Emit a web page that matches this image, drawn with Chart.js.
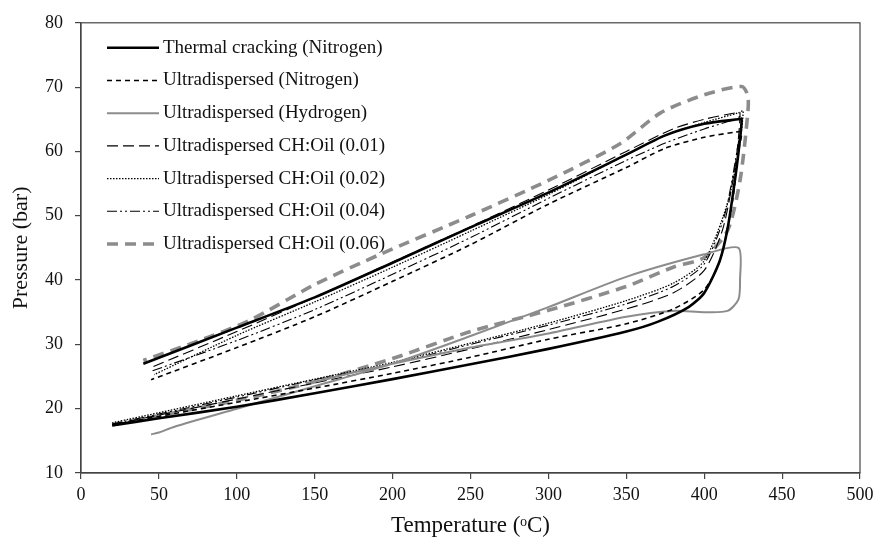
<!DOCTYPE html>
<html>
<head>
<meta charset="utf-8">
<script src="https://cdn.jsdelivr.net/npm/chart.js@4"></script>
<style>
  body { margin: 0; background: #fff; }
</style>
</head>
<body>
<canvas id="chart" width="881" height="543"></canvas>
<script>
// heating (lower) then cooling (upper) path, temperature in degC / pressure in bar
const thermalT = [20, 50, 100, 150, 200, 250, 300, 350, 370, 390, 400, 410, 415, 420, 423, 424, 422, 400, 375, 350, 300, 250, 200, 150, 100, 40];
const thermalP = [17.4, 18.5, 20.3, 22.4, 24.6, 26.9, 29.3, 32.0, 33.5, 35.8, 38.0, 43.0, 48.0, 56.0, 62.0, 65.0, 65.0, 64.3, 62.5, 59.5, 53.6, 48.2, 42.7, 37.3, 32.6, 27.0];

const n2T = [20, 100, 150, 200, 250, 300, 350, 380, 400, 410, 418, 422, 424, 420, 400, 375, 350, 300, 250, 200, 150, 100, 45];
const n2P = [17.5, 21.0, 23.2, 25.5, 28.0, 30.8, 33.2, 35.5, 38.5, 43.0, 52.0, 60.0, 63.0, 63.0, 62.2, 60.5, 57.5, 51.8, 45.5, 39.8, 34.3, 29.5, 24.5];

const h2T = [45, 50, 60, 100, 150, 200, 250, 300, 350, 400, 422, 423, 422, 415, 400, 380, 350, 300, 250, 200, 150];
const h2P = [16.0, 16.3, 17.2, 20.0, 23.5, 27.0, 31.3, 35.8, 40.5, 44.0, 45.0, 40.0, 37.0, 35.2, 35.0, 35.2, 34.3, 31.7, 29.5, 27.0, 24.2];

const ch01T = [20, 100, 150, 200, 250, 300, 350, 380, 400, 412, 420, 423, 420, 400, 380, 350, 300, 250, 200, 150, 100, 44];
const ch01P = [17.5, 21.5, 24.0, 26.5, 29.3, 32.3, 35.5, 38.0, 41.5, 48.0, 58.0, 66.0, 66.0, 65.0, 63.5, 60.0, 54.0, 48.3, 42.8, 37.3, 32.0, 26.3];

const ch02T = [20, 100, 150, 200, 250, 300, 350, 380, 400, 415, 422, 425, 422, 400, 375, 350, 300, 250, 200, 150, 100, 47];
const ch02P = [17.8, 22.0, 24.6, 27.2, 30.2, 33.3, 36.8, 39.5, 43.0, 52.0, 60.0, 66.3, 66.0, 64.5, 62.5, 59.5, 53.3, 47.6, 42.0, 36.6, 31.4, 25.3];

const ch04T = [20, 100, 150, 200, 250, 300, 350, 380, 400, 413, 421, 424, 420, 400, 375, 350, 300, 250, 200, 150, 100, 45];
const ch04P = [17.6, 21.8, 24.5, 27.0, 30.0, 33.0, 36.3, 39.0, 42.5, 50.0, 60.0, 65.5, 65.0, 63.5, 61.3, 58.6, 52.7, 46.6, 40.9, 35.4, 30.6, 25.8];

const ch06T = [20, 100, 150, 200, 250, 300, 350, 380, 400, 415, 423, 428, 428, 424, 400, 372, 346, 300, 250, 192, 150, 108, 75, 40];
const ch06P = [17.5, 21.3, 24.2, 27.8, 32.0, 35.3, 39.0, 42.0, 43.5, 47.7, 55.5, 66.0, 68.7, 70.1, 68.8, 66.0, 61.2, 55.5, 50.0, 44.0, 39.3, 33.7, 30.5, 27.5];

const seriesNames = [
  'Thermal cracking (Nitrogen)',
  'Ultradispersed (Nitrogen)',
  'Ultradispersed (Hydrogen)',
  'Ultradispersed CH:Oil (0.01)',
  'Ultradispersed CH:Oil (0.02)',
  'Ultradispersed CH:Oil (0.04)',
  'Ultradispersed CH:Oil (0.06)'
];
const xTicks = [0, 50, 100, 150, 200, 250, 300, 350, 400, 450, 500];
const yTicks = [10, 20, 30, 40, 50, 60, 70, 80];

const toPoints = (ts, ps) => ts.map((t, i) => ({ x: t, y: ps[i] }));

const styles = [
  { color: '#000', width: 2.6, dash: [] },
  { color: '#000', width: 1.6, dash: [5, 4] },
  { color: '#8c8c8c', width: 2, dash: [] },
  { color: '#000', width: 1.1, dash: [11, 5] },
  { color: '#000', width: 1.3, dash: [1.5, 1.5] },
  { color: '#000', width: 1.1, dash: [10, 3, 2, 3, 2, 3] },
  { color: '#8c8c8c', width: 3.6, dash: [11, 7] }
];
const pairs = [[thermalT, thermalP], [n2T, n2P], [h2T, h2P], [ch01T, ch01P], [ch02T, ch02P], [ch04T, ch04P], [ch06T, ch06P]];

const datasets = pairs.map((p, i) => ({
  label: seriesNames[i],
  data: toPoints(p[0], p[1]),
  showLine: true,
  borderColor: styles[i].color,
  borderWidth: styles[i].width,
  borderDash: styles[i].dash,
  pointRadius: 0,
  tension: 0.25,
  fill: false
}));

const serif = '"Liberation Serif", "Times New Roman", serif';

// legend drawn inside the plot, plus the frame round the plot area
const frameAndLegend = {
  id: 'frameAndLegend',
  afterDraw(chart) {
    const ctx = chart.ctx;
    const a = chart.chartArea;
    ctx.save();
    ctx.strokeStyle = '#444';
    ctx.lineWidth = 1.2;
    ctx.setLineDash([]);
    ctx.strokeRect(a.left, a.top, a.right - a.left, a.bottom - a.top);

    const x0 = a.left + 26, x1 = a.left + 78;
    let y = a.top + 25;
    ctx.font = '19px ' + serif;
    ctx.textBaseline = 'middle';
    ctx.fillStyle = '#111';
    chart.data.datasets.forEach(ds => {
      ctx.strokeStyle = ds.borderColor;
      ctx.lineWidth = ds.borderWidth;
      ctx.setLineDash(ds.borderDash);
      ctx.beginPath();
      ctx.moveTo(x0, y);
      ctx.lineTo(x1, y);
      ctx.stroke();
      ctx.setLineDash([]);
      ctx.fillText(ds.label, x1 + 4, y);
      y += 32.7;
    });
    ctx.restore();
  }
};

new Chart(document.getElementById('chart').getContext('2d'), {
  type: 'scatter',
  data: { datasets: datasets },
  options: {
    responsive: false,
    animation: false,
    layout: { padding: { top: 22, right: 21, left: 0, bottom: 0 } },
    plugins: { legend: { display: false }, tooltip: { enabled: false } },
    scales: {
      x: {
        min: 0, max: 500,
        afterBuildTicks: s => { s.ticks = xTicks.map(v => ({ value: v })); },
        afterFit: s => { s.height = 70; },
        grid: { drawOnChartArea: false, tickLength: 6, color: '#444', lineWidth: 1.2 },
        border: { color: '#444', width: 1.2 },
        ticks: { color: '#111', font: { family: serif, size: 18 }, padding: 5, maxRotation: 0 },
        title: { display: true, text: 'Temperature (ᵒC)', color: '#111', font: { family: serif, size: 23 }, padding: { top: 0, bottom: 3 } }
      },
      y: {
        min: 10, max: 80,
        afterBuildTicks: s => { s.ticks = yTicks.map(v => ({ value: v })); },
        afterFit: s => { s.width = 81; },
        grid: { drawOnChartArea: false, tickLength: 6, color: '#444', lineWidth: 1.2 },
        border: { color: '#444', width: 1.2 },
        ticks: { color: '#111', font: { family: serif, size: 18 }, padding: 12 },
        title: { display: true, text: 'Pressure (bar)', color: '#111', font: { family: serif, size: 22 }, padding: { top: 8, bottom: 0 } }
      }
    }
  },
  plugins: [frameAndLegend]
});
</script>
</body>
</html>
